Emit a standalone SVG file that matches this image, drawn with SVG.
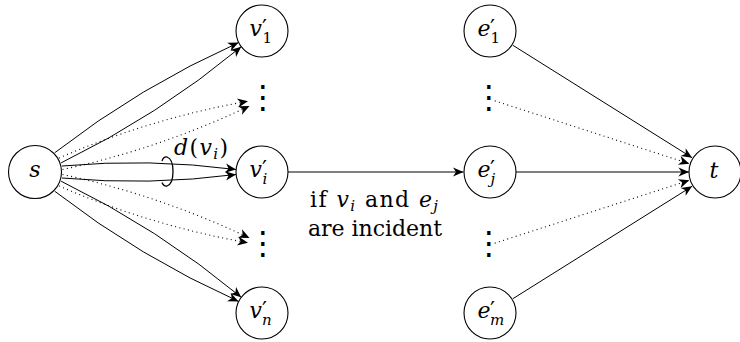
<svg xmlns="http://www.w3.org/2000/svg" width="740" height="342" viewBox="0 0 740 342">
<style>
.node{fill:#fff;stroke:#000;stroke-width:1.1}
.e{fill:none;stroke:#000;stroke-width:1;marker-end:url(#ah)}
.d{fill:none;stroke:#000;stroke-width:1.1;stroke-dasharray:1 3.4;marker-end:url(#ah)}
.m{font-style:italic;font-size:22px}
.r{font-size:22px}
.p{font-size:22px}
.si{font-style:italic;font-size:15px}
.sr{font-size:15px}
.dots{font-size:32px;text-anchor:middle}
</style>
<defs>
<marker id="ah" viewBox="-11 -5 12 10" refX="0" refY="0" markerWidth="12" markerHeight="10" markerUnits="userSpaceOnUse" orient="auto">
<path d="M0,0 L-10.5,-4.6 L-7.5,0 L-10.5,4.6 Z" fill="#000"/>
</marker>
</defs>
<g id="connectors">
<path class="e" d="M54.8,152.7 Q139.9,86.7 238.6,42.6"/>
<path class="e" d="M61.1,162.9 Q157.9,115.8 241.2,46.8"/>
<path class="d" d="M58.9,158.1 Q149.9,118.6 248,101.2"/>
<path class="d" d="M62.5,169.5 Q159.5,148.7 249.5,106"/>
<path class="e" d="M62,166 Q149,158.1 236,169.5"/>
<path class="e" d="M62,178 Q149,185.9 236,174.5"/>
<path class="d" d="M58.9,185.9 Q149.9,225.4 248,242.8"/>
<path class="d" d="M62.5,174.5 Q159.5,195.3 249.5,238"/>
<path class="e" d="M54.8,191.3 Q139.9,257.3 238.6,301.4"/>
<path class="e" d="M61.1,181.2 Q157.9,228.2 241.2,297.2"/>
<path class="e" d="M288,172 L463.5,172"/>
<path class="e" d="M512.9,45.3 L692.1,157.7"/>
<path class="d" d="M494.7,100.8 L689.3,163.7"/>
<path class="e" d="M516,172 L689,172"/>
<path class="d" d="M494.7,243.2 L689.3,180.3"/>
<path class="e" d="M512.9,298.7 L692.1,186.3"/>
<path d="M162,161 Q163.5,156.5 167,157 Q173,159 173,171.5 Q173,184 167,186 Q163.5,186.5 162,182.5" fill="none" stroke="#000" stroke-width="1.3"/>
<text font-family="DejaVu Serif" x="174" y="155" class="r" textLength="54"><tspan font-family="DejaVu Serif" class="m">d</tspan>(<tspan font-family="DejaVu Serif" class="m">v</tspan><tspan font-family="DejaVu Serif" class="si" dy="4">i</tspan><tspan dy="-4">)</tspan></text>
<text font-family="DejaVu Serif" x="374" y="207" class="r" text-anchor="middle" textLength="128">if <tspan font-family="DejaVu Serif" class="m">v</tspan><tspan font-family="DejaVu Serif" class="si" dy="4">i</tspan><tspan dy="-4"> and </tspan><tspan font-family="DejaVu Serif" class="m">e</tspan><tspan font-family="DejaVu Serif" class="si" dy="4">j</tspan></text>
<text font-family="DejaVu Serif" x="375" y="236" class="r" text-anchor="middle" textLength="134">are incident</text>
</g>
<g id="s"><circle class="node" cx="35" cy="172" r="26.5"/><text font-family="DejaVu Serif" x="35" y="177" class="m" text-anchor="middle">s</text></g>
<g id="v1"><circle class="node" cx="262" cy="31" r="26"/><text font-family="DejaVu Serif" x="249.5" y="35.5" class="m">v</text><text font-family="DejaVu Serif" x="262" y="35" class="p">′</text><text font-family="DejaVu Serif" x="262.5" y="43" class="sr">1</text></g>
<g id="vdots1"><text font-family="DejaVu Sans" x="263" y="107.5" class="dots">⋮</text></g>
<g id="vi"><circle class="node" cx="262" cy="172" r="26"/><text font-family="DejaVu Serif" x="249.5" y="176.5" class="m">v</text><text font-family="DejaVu Serif" x="262" y="176" class="p">′</text><text font-family="DejaVu Serif" x="262.5" y="184" class="si">i</text></g>
<g id="vdots2"><text font-family="DejaVu Sans" x="263" y="253.5" class="dots">⋮</text></g>
<g id="vn"><circle class="node" cx="262" cy="313" r="26"/><text font-family="DejaVu Serif" x="249.5" y="317.5" class="m">v</text><text font-family="DejaVu Serif" x="262" y="317" class="p">′</text><text font-family="DejaVu Serif" x="262" y="325" class="si">n</text></g>
<g id="e1"><circle class="node" cx="490" cy="31" r="26"/><text font-family="DejaVu Serif" x="477.5" y="35.5" class="m">e</text><text font-family="DejaVu Serif" x="490" y="35" class="p">′</text><text font-family="DejaVu Serif" x="490.5" y="43" class="sr">1</text></g>
<g id="edots1"><text font-family="DejaVu Sans" x="489" y="107.5" class="dots">⋮</text></g>
<g id="ej"><circle class="node" cx="490" cy="172" r="26"/><text font-family="DejaVu Serif" x="477.5" y="176.5" class="m">e</text><text font-family="DejaVu Serif" x="490" y="176" class="p">′</text><text font-family="DejaVu Serif" x="490.5" y="184" class="si">j</text></g>
<g id="edots2"><text font-family="DejaVu Sans" x="489" y="253.5" class="dots">⋮</text></g>
<g id="em"><circle class="node" cx="490" cy="313" r="26"/><text font-family="DejaVu Serif" x="477.5" y="317.5" class="m">e</text><text font-family="DejaVu Serif" x="490" y="317" class="p">′</text><text font-family="DejaVu Serif" x="490" y="325" class="si">m</text></g>
<g id="t"><circle class="node" cx="715" cy="172" r="26"/><text font-family="DejaVu Serif" x="714" y="178" class="m" text-anchor="middle">t</text></g>
</svg>
